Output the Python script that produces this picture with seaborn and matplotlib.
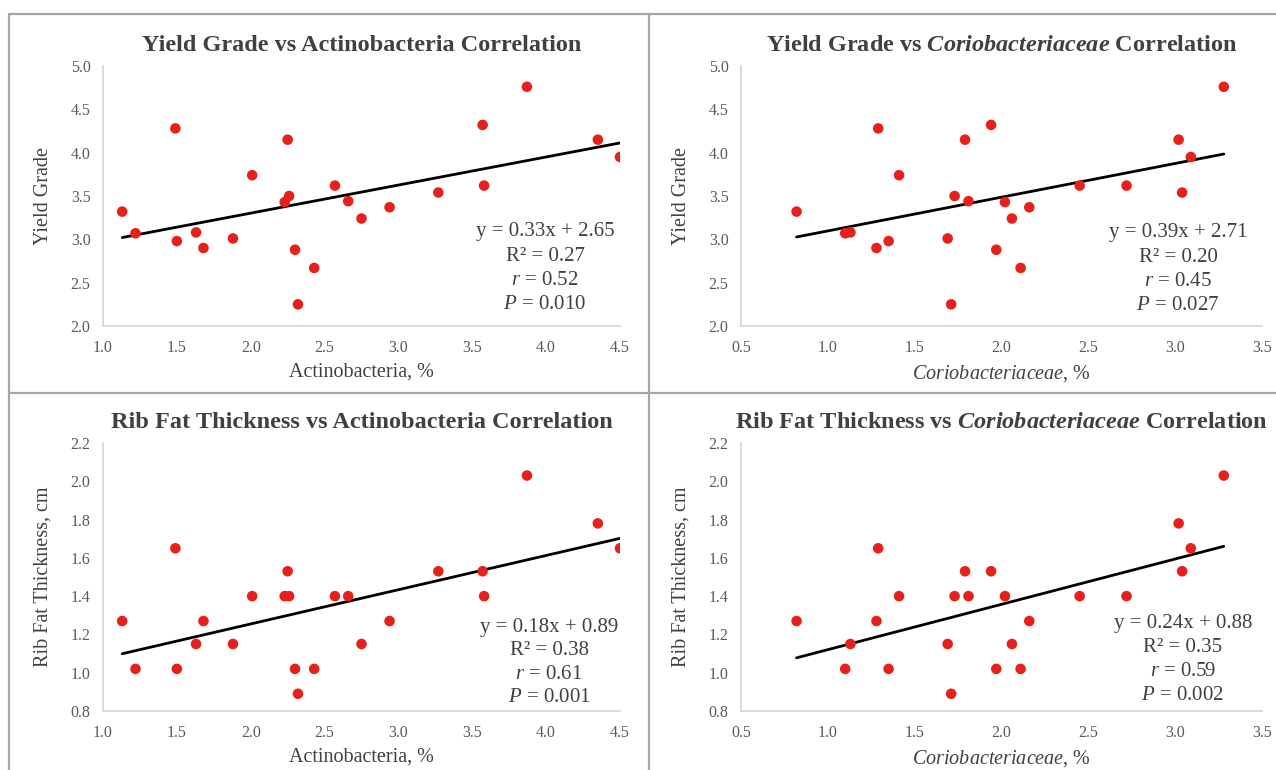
import numpy as np
import pandas as pd
import matplotlib
matplotlib.use("Agg")
import matplotlib.pyplot as plt
from matplotlib.lines import Line2D
import seaborn as sns

# values (same 24 animals in every panel)
actino = [1.13, 1.22, 1.49, 1.50, 1.63, 1.68, 1.88, 2.01, 2.23, 2.26, 2.25, 2.30,
          2.43, 2.32, 2.57, 2.66, 2.75, 2.94, 3.27, 3.57, 3.58, 3.87, 4.35, 4.50]
corio = [0.82, 1.10, 1.29, 1.35, 1.13, 1.28, 1.69, 1.41, 2.02, 1.73, 1.79, 1.97,
         2.11, 1.71, 2.45, 1.81, 2.06, 2.16, 3.04, 1.94, 2.72, 3.28, 3.02, 3.09]
yield_grade = [3.32, 3.07, 4.28, 2.98, 3.08, 2.90, 3.01, 3.74, 3.43, 3.50, 4.15, 2.88,
               2.67, 2.25, 3.62, 3.44, 3.24, 3.37, 3.54, 4.32, 3.62, 4.76, 4.15, 3.95]
rib_fat = [1.27, 1.02, 1.65, 1.02, 1.15, 1.27, 1.15, 1.40, 1.40, 1.40, 1.53, 1.02,
           1.02, 0.89, 1.40, 1.40, 1.15, 1.27, 1.53, 1.53, 1.40, 2.03, 1.78, 1.65]

stats_yg_actino = ["y = 0.33x + 2.65", "R² = 0.27", "r = 0.52", "P = 0.010"]
stats_yg_corio = ["y = 0.39x + 2.71", "R² = 0.20", "r = 0.45", "P = 0.027"]
stats_rf_actino = ["y = 0.18x + 0.89", "R² = 0.38", "r = 0.61", "P = 0.001"]
stats_rf_corio = ["y = 0.24x + 0.88", "R² = 0.35", "r = 0.59", "P = 0.002"]

actino_ticks = [1.0, 1.5, 2.0, 2.5, 3.0, 3.5, 4.0, 4.5]
corio_ticks = [0.5, 1.0, 1.5, 2.0, 2.5, 3.0, 3.5]
yg_ticks = [2.0, 2.5, 3.0, 3.5, 4.0, 4.5, 5.0]
rf_ticks = [0.8, 1.0, 1.2, 1.4, 1.6, 1.8, 2.0, 2.2]

data = pd.DataFrame({"actino": actino, "corio": corio,
                     "yield": yield_grade, "ribfat": rib_fat})

sns.set_theme(style="white")
plt.rcParams["font.family"] = ["Liberation Serif", "DejaVu Serif"]
plt.rcParams["mathtext.fontset"] = "custom"
plt.rcParams["mathtext.rm"] = "Liberation Serif"
plt.rcParams["mathtext.it"] = "Liberation Serif:italic"
plt.rcParams["mathtext.bf"] = "Liberation Serif:bold"
plt.rcParams["mathtext.bfit"] = "Liberation Serif:italic:bold"

W, H = 1276, 770
fig = plt.figure(figsize=(W / 100, H / 100), dpi=100)

CORIO_IT = r"$\mathit{Coriobacteriaceae}$"
CORIO_BF = r"$\mathbfit{Coriobacteriaceae}$"

panels = [
    # rect in pixels (left, top, right, bottom), x, y, ticks, labels, stats, text pos
    dict(px=(103, 66, 620, 326), x="actino", y="yield", xt=actino_ticks, yt=yg_ticks,
         title="Yield Grade vs Actinobacteria Correlation",
         xl="Actinobacteria, %", yl="Yield Grade", st=stats_yg_actino,
         tx=0.855, ty=0.362, dy=0.0935),
    dict(px=(741, 66, 1262, 326), x="corio", y="yield", xt=corio_ticks, yt=yg_ticks,
         title="Yield Grade vs " + CORIO_BF + " Correlation",
         xl=CORIO_IT + ", %", yl="Yield Grade", st=stats_yg_corio,
         tx=0.839, ty=0.358, dy=0.0935),
    dict(px=(103, 443, 620, 711), x="actino", y="ribfat", xt=actino_ticks, yt=rf_ticks,
         title="Rib Fat Thickness vs Actinobacteria Correlation",
         xl="Actinobacteria, %", yl="Rib Fat Thickness, cm", st=stats_rf_actino,
         tx=0.863, ty=0.313, dy=0.088),
    dict(px=(741, 443, 1262, 711), x="corio", y="ribfat", xt=corio_ticks, yt=rf_ticks,
         title="Rib Fat Thickness vs " + CORIO_BF + " Correlation",
         xl=CORIO_IT + ", %", yl="Rib Fat Thickness, cm", st=stats_rf_corio,
         tx=0.848, ty=0.328, dy=0.0896),
]

text_col = "#404040"
tick_col = "#595959"

for p in panels:
    l, t, r, b = p["px"]
    ax = fig.add_axes([l / W, 1 - b / H, (r - l) / W, (b - t) / H])
    sns.regplot(data=data, x=p["x"], y=p["y"], scatter=False, ci=None,
                truncate=True, color="black", line_kws={"linewidth": 2}, ax=ax)
    sns.scatterplot(data=data, x=p["x"], y=p["y"], color="#e8201c", s=58,
                    edgecolor="none", ax=ax, zorder=3, legend=False)
    ax.set_xlim(p["xt"][0], p["xt"][-1])
    ax.set_ylim(p["yt"][0], p["yt"][-1])
    ax.set_xticks(p["xt"])
    ax.set_yticks(p["yt"])
    ax.set_xticklabels([f"{v:.1f}" for v in p["xt"]])
    ax.set_yticklabels([f"{v:.1f}" for v in p["yt"]])
    ax.tick_params(length=0, labelsize=11.5, labelcolor=tick_col)
    ax.tick_params(axis="x", pad=10)
    ax.tick_params(axis="y", pad=9)
    sns.despine(ax=ax)
    for s in ["left", "bottom"]:
        ax.spines[s].set_color("#d4d4d4")
        ax.spines[s].set_linewidth(1.2)
    ax.set_title(p["title"], fontsize=17.5, fontweight="bold", color=text_col, pad=11)
    ax.set_xlabel(p["xl"], fontsize=14.5, color=text_col, labelpad=5)
    ax.set_ylabel(p["yl"], fontsize=14.5, color=text_col, labelpad=13)
    st = p["st"]
    lines = [st[0], st[1], r"$\mathit{r}$" + st[2][1:], r"$\mathit{P}$" + st[3][1:]]
    for i, s in enumerate(lines):
        ax.text(p["tx"], p["ty"] - i * p["dy"], s, transform=ax.transAxes,
                ha="center", va="center", fontsize=15, color=text_col)

# gray frame and dividers between the panels
frame = "#a6a6a6"
fig.add_artist(Line2D([9 / W, 1], [1 - 14 / H, 1 - 14 / H], color=frame, lw=1.6))
fig.add_artist(Line2D([9 / W, 9 / W], [0, 1 - 14 / H], color=frame, lw=1.6))
fig.add_artist(Line2D([649 / W, 649 / W], [0, 1 - 14 / H], color=frame, lw=1.6))
fig.add_artist(Line2D([9 / W, 1], [1 - 393 / H, 1 - 393 / H], color=frame, lw=1.6))

plt.savefig("out.png", dpi=100)
